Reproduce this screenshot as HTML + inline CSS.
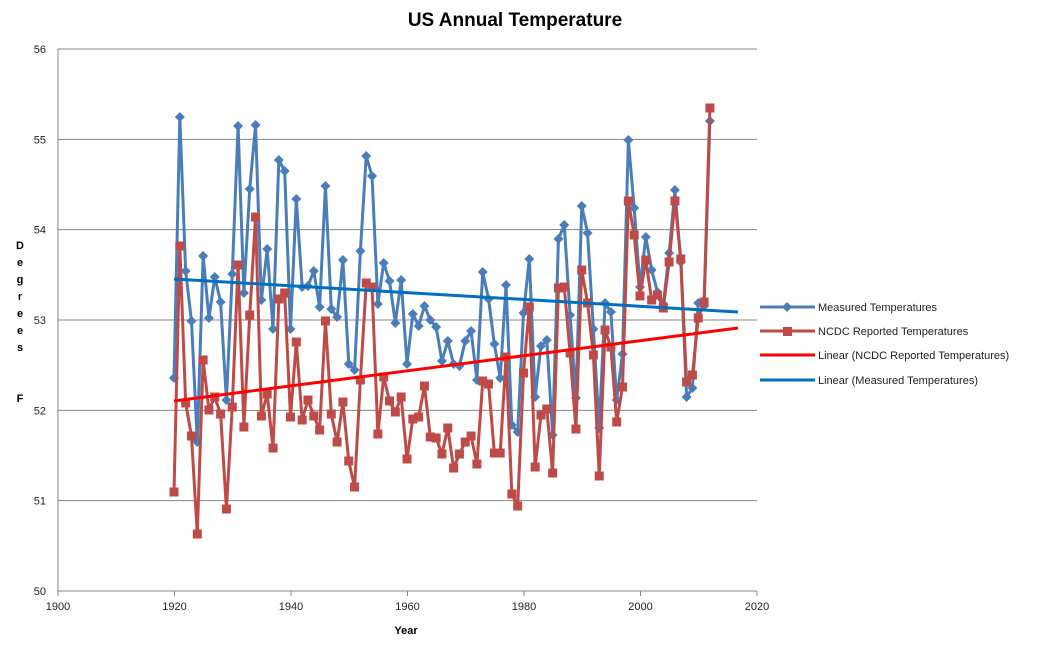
<!DOCTYPE html>
<html><head><meta charset="utf-8"><style>
body{margin:0;background:#fff;}
svg{display:block;font-family:"Liberation Sans",sans-serif;}
</style></head><body>
<svg id="s" width="1037" height="646" xmlns="http://www.w3.org/2000/svg">
<rect width="1037" height="646" fill="#fff"/>
<text x="515" y="26" font-size="19" font-weight="bold" text-anchor="middle">US Annual Temperature</text>
<g id="grid" stroke="#878787" stroke-width="1"></g>
<g id="tl" font-size="11" fill="#222"></g>
<line x1="58" y1="49" x2="58" y2="591" stroke="#878787"/>
<text x="406" y="634" font-size="11" font-weight="bold" text-anchor="middle">Year</text>
<g font-size="11" font-weight="bold" text-anchor="middle">
<text x="20" y="249">D</text><text x="20" y="266">e</text><text x="20" y="283">g</text><text x="20" y="300">r</text><text x="20" y="317">e</text><text x="20" y="334">e</text><text x="20" y="351">s</text><text x="20" y="402">F</text>
</g>
<g id="data"></g>
<g font-size="11" fill="#222">
<line x1="760" y1="307" x2="815" y2="307" stroke="#4a7ebb" stroke-width="3"/><path d="M787 302L792 307L787 312L782 307Z" fill="#4a7ebb"/>
<text x="818" y="311">Measured Temperatures</text>
<line x1="760" y1="331" x2="815" y2="331" stroke="#be4b48" stroke-width="3"/><rect x="783" y="327" width="9" height="9" fill="#be4b48"/>
<text x="818" y="335">NCDC Reported Temperatures</text>
<line x1="760" y1="355" x2="815" y2="355" stroke="#ff0000" stroke-width="3"/>
<text x="818" y="359">Linear (NCDC Reported Temperatures)</text>
<line x1="760" y1="380" x2="815" y2="380" stroke="#0070c0" stroke-width="3"/>
<text x="818" y="384">Linear (Measured Temperatures)</text>
</g>
</svg>
<script>
var NS="http://www.w3.org/2000/svg";
function el(p,t,a){var e=document.createElementNS(NS,t);for(var k in a)e.setAttribute(k,a[k]);p.appendChild(e);return e;}
var g=document.getElementById('grid'),tl=document.getElementById('tl');
for(var i=0;i<=6;i++){var y=591-i*90.33;el(g,'line',{x1:58,y1:y,x2:757,y2:y});var t=el(tl,'text',{x:46,y:y+4,'text-anchor':'end'});t.textContent=50+i;}
for(var i=0;i<=6;i++){var x=58+i*116.5;el(g,'line',{x1:x,y1:591,x2:x,y2:596});var t=el(tl,'text',{x:x,y:610,'text-anchor':'middle'});t.textContent=1900+i*20;}
var B=[378,117,271,321,442,256,318,277,302,400,274,126,293,189,125,300,249,329,160,171,329,199,287,286,271,307,186,309,317,260,364,370,251,156,176,304,263,281,323,280,364,314,326,306,320,327,361,341,364,366,341,331,380,272,299,344,378,285,425,432,313,259,397,346,340,435,239,225,315,398,206,233,329,428,303,312,400,354,140,208,287,237,270,292,304,253,190,262,397,388,303,306,121];
var R=[492,246,403,436,534,360,410,397,414,509,407,265,427,315,217,416,394,448,299,293,417,342,420,400,416,430,321,414,442,402,461,487,380,283,287,434,377,401,412,397,459,419,417,386,437,438,454,428,468,454,442,436,464,381,384,453,453,357,494,506,373,307,467,415,409,473,288,287,353,429,270,303,355,476,330,347,422,387,201,235,296,260,300,295,308,262,201,259,382,375,318,302,108];
var d=document.getElementById('data');
function X(i){return 174+i*5.825;}
el(d,'polyline',{points:B.map(function(v,i){return X(i)+','+v}).join(' '),fill:'none',stroke:'#4a7ebb','stroke-width':3,'stroke-linejoin':'round'});
B.forEach(function(v,i){var x=X(i);el(d,'path',{d:'M'+x+' '+(v-5)+'L'+(x+5)+' '+v+'L'+x+' '+(v+5)+'L'+(x-5)+' '+v+'Z',fill:'#4a7ebb'});});
el(d,'polyline',{points:R.map(function(v,i){return X(i)+','+v}).join(' '),fill:'none',stroke:'#be4b48','stroke-width':3,'stroke-linejoin':'round'});
R.forEach(function(v,i){el(d,'rect',{x:X(i)-4.5,y:v-4.5,width:9,height:9,fill:'#be4b48'});});
el(d,'line',{x1:174,y1:279,x2:738,y2:312,stroke:'#0070c0','stroke-width':3});
el(d,'line',{x1:174,y1:401,x2:738,y2:328,stroke:'#ff0000','stroke-width':3});
</script>
</body></html>
